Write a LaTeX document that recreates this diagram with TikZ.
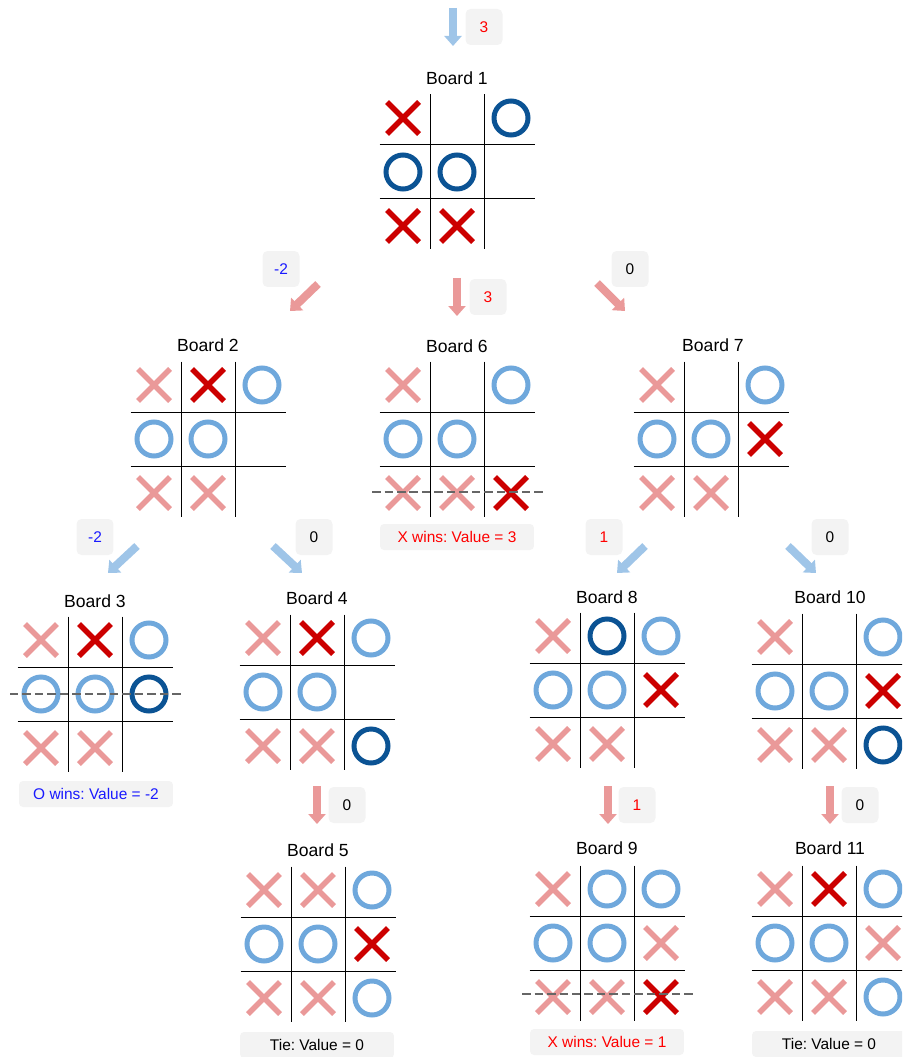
\documentclass[tikz,border=0pt]{standalone}
\usepackage{fontspec}
\setmainfont{Liberation Sans}
\usetikzlibrary{arrows.meta,positioning,calc}
\usepackage{xcolor}
\definecolor{Ink}{HTML}{000000}
\definecolor{XLight}{HTML}{EA9999}
\definecolor{XDark}{HTML}{CC0000}
\definecolor{OLight}{HTML}{6FA8DC}
\definecolor{ODark}{HTML}{0B5394}
\definecolor{ArrowBlue}{HTML}{9FC5E8}
\definecolor{BoxGray}{HTML}{F3F3F3}
\definecolor{WinLine}{HTML}{666666}
\definecolor{ValRed}{HTML}{FF0000}
\definecolor{ValBlue}{HTML}{1A1AFF}

\newcommand{\boardgrid}{%
  \draw[gridline] (-27,-77.5) -- (-27,77.5);
  \draw[gridline] (27,-77.5) -- (27,77.5);
  \draw[gridline] (-77.5,-27) -- (77.5,-27);
  \draw[gridline] (-77.5,27) -- (77.5,27);}
\newcommand{\drawX}[3]{\draw[#1] (#2,#3) +(-16,-16) -- +(16,16) (#2,#3) +(-16,16) -- +(16,-16);}
\newcommand{\drawO}[3]{\draw[#1] (#2,#3) circle[radius=0.34cm];}

\begin{document}
\frenchspacing
\begin{tikzpicture}[x=0.02cm,y=-0.02cm,
  gridline/.style={Ink,line width=0.02cm},
  xl/.style={XLight,line width=0.11cm},
  xd/.style={XDark,line width=0.11cm},
  ol/.style={OLight,line width=0.1cm},
  od/.style={ODark,line width=0.1cm},
  winline/.style={WinLine,line width=0.055cm,dash pattern=on 0.17cm off 0.08cm},
  title/.style={font=\fontsize{10}{12}\selectfont},
  valbox/.style={fill=BoxGray,rounded corners=0.1cm,minimum width=0.74cm,minimum height=0.72cm,inner sep=0pt,font=\fontsize{8.8}{10}\selectfont},
  resbox/.style={fill=BoxGray,rounded corners=0.08cm,minimum width=3.08cm,minimum height=0.52cm,inner sep=0pt,font=\fontsize{8.8}{10}\selectfont},
  movearrow/.style={line width=0.16cm,-{Triangle[width=0.34cm,length=0.2cm]}}]
\useasboundingbox (0,0) rectangle (902,1057);
\clip (0,0) rectangle (902,1057);

% move arrows and their values
\coordinate (m1s) at (453,8);    \coordinate (m1e) at (453,46);
\coordinate (m2s) at (318,284);  \coordinate (m2e) at (290,311);
\coordinate (m6s) at (457,278);  \coordinate (m6e) at (457,316);
\coordinate (m7s) at (597,283);  \coordinate (m7e) at (625,311);
\coordinate (m3s) at (137,546);  \coordinate (m3e) at (108,573);
\coordinate (m4s) at (273,546);  \coordinate (m4e) at (302,573);
\coordinate (m8s) at (645,546);  \coordinate (m8e) at (617,573);
\coordinate (m10s) at (788,546); \coordinate (m10e) at (816,573);
\coordinate (m5s) at (317,786);  \coordinate (m5e) at (317,824);
\coordinate (m9s) at (608,786);  \coordinate (m9e) at (608,824);
\coordinate (m11s) at (830,786); \coordinate (m11e) at (830,824);
\draw[movearrow,ArrowBlue] (m1s) -- (m1e);
\draw[movearrow,XLight] (m2s) -- (m2e);
\draw[movearrow,XLight] (m6s) -- (m6e);
\draw[movearrow,XLight] (m7s) -- (m7e);
\draw[movearrow,ArrowBlue] (m3s) -- (m3e);
\draw[movearrow,ArrowBlue] (m4s) -- (m4e);
\draw[movearrow,ArrowBlue] (m8s) -- (m8e);
\draw[movearrow,ArrowBlue] (m10s) -- (m10e);
\draw[movearrow,XLight] (m5s) -- (m5e);
\draw[movearrow,XLight] (m9s) -- (m9e);
\draw[movearrow,XLight] (m11s) -- (m11e);
\node[valbox,text=ValRed] (val1) at (484,27) {3};
\node[valbox,text=ValBlue] (val2) at (281,269) {-2};
\node[valbox,text=ValRed] (val6) at (488,297) {3};
\node[valbox,text=Ink] (val7) at (630,269) {0};
\node[valbox,text=ValBlue] (val3) at (95,537) {-2};
\node[valbox,text=Ink] (val4) at (314,537) {0};
\node[valbox,text=ValRed] (val8) at (604,537) {1};
\node[valbox,text=Ink] (val10) at (830,537) {0};
\node[valbox,text=Ink] (val5) at (347,805) {0};
\node[valbox,text=ValRed] (val9) at (637,805) {1};
\node[valbox,text=Ink] (val11) at (860,805) {0};

% board titles
\node[title] (board1) at (457,78) {Board 1};
\node[title] (board2) at (208,345) {Board 2};
\node[title] (board6) at (457,346) {Board 6};
\node[title] (board7) at (713,345) {Board 7};
\node[title] (board3) at (95,601) {Board 3};
\node[title] (board4) at (317,598) {Board 4};
\node[title] (board8) at (607,597) {Board 8};
\node[title] (board10) at (830,597) {Board 10};
\node[title] (board5) at (318,850) {Board 5};
\node[title] (board9) at (607,848) {Board 9};
\node[title] (board11) at (830,848) {Board 11};

% Board 1
\begin{scope}[shift={(457,172)}]
\boardgrid
\drawX{xd}{-54}{-54} \drawO{od}{54}{-54}
\drawO{od}{-54}{0} \drawO{od}{0}{0}
\drawX{xd}{-54}{54} \drawX{xd}{0}{54}
\end{scope}
% Board 2
\begin{scope}[shift={(208,439)}]
\boardgrid
\drawX{xl}{-54}{-54} \drawX{xd}{0}{-54} \drawO{ol}{54}{-54}
\drawO{ol}{-54}{0} \drawO{ol}{0}{0}
\drawX{xl}{-54}{54} \drawX{xl}{0}{54}
\end{scope}
% Board 6
\begin{scope}[shift={(457,439)}]
\boardgrid
\drawX{xl}{-54}{-54} \drawO{ol}{54}{-54}
\drawO{ol}{-54}{0} \drawO{ol}{0}{0}
\drawX{xl}{-54}{54} \drawX{xl}{0}{54} \drawX{xd}{54}{54}
\draw[winline] (-85,53) -- (87,53);
\end{scope}
\node[resbox,text=ValRed] (res6) at (457,537) {X wins: Value = 3};
% Board 7
\begin{scope}[shift={(711,439)}]
\boardgrid
\drawX{xl}{-54}{-54} \drawO{ol}{54}{-54}
\drawO{ol}{-54}{0} \drawO{ol}{0}{0} \drawX{xd}{54}{0}
\drawX{xl}{-54}{54} \drawX{xl}{0}{54}
\end{scope}
% Board 3
\begin{scope}[shift={(95,694)}]
\boardgrid
\drawX{xl}{-54}{-54} \drawX{xd}{0}{-54} \drawO{ol}{54}{-54}
\drawO{ol}{-54}{0} \drawO{ol}{0}{0} \drawO{od}{54}{0}
\drawX{xl}{-54}{54} \drawX{xl}{0}{54}
\draw[winline] (-85,0) -- (87,0);
\end{scope}
\node[resbox,text=ValBlue] (res3) at (96,794) {O wins: Value = -2};
% Board 4
\begin{scope}[shift={(317,692)}]
\boardgrid
\drawX{xl}{-54}{-54} \drawX{xd}{0}{-54} \drawO{ol}{54}{-54}
\drawO{ol}{-54}{0} \drawO{ol}{0}{0}
\drawX{xl}{-54}{54} \drawX{xl}{0}{54} \drawO{od}{54}{54}
\end{scope}
% Board 8
\begin{scope}[shift={(607,690)}]
\boardgrid
\drawX{xl}{-54}{-54} \drawO{od}{0}{-54} \drawO{ol}{54}{-54}
\drawO{ol}{-54}{0} \drawO{ol}{0}{0} \drawX{xd}{54}{0}
\drawX{xl}{-54}{54} \drawX{xl}{0}{54}
\end{scope}
% Board 10
\begin{scope}[shift={(829,691)}]
\boardgrid
\drawX{xl}{-54}{-54} \drawO{ol}{54}{-54}
\drawO{ol}{-54}{0} \drawO{ol}{0}{0} \drawX{xd}{54}{0}
\drawX{xl}{-54}{54} \drawX{xl}{0}{54} \drawO{od}{54}{54}
\end{scope}
% Board 5
\begin{scope}[shift={(318,944)}]
\boardgrid
\drawX{xl}{-54}{-54} \drawX{xl}{0}{-54} \drawO{ol}{54}{-54}
\drawO{ol}{-54}{0} \drawO{ol}{0}{0} \drawX{xd}{54}{0}
\drawX{xl}{-54}{54} \drawX{xl}{0}{54} \drawO{ol}{54}{54}
\end{scope}
\node[resbox,text=Ink] (res5) at (317,1045) {Tie: Value = 0};
% Board 9
\begin{scope}[shift={(607,943)}]
\boardgrid
\drawX{xl}{-54}{-54} \drawO{ol}{0}{-54} \drawO{ol}{54}{-54}
\drawO{ol}{-54}{0} \drawO{ol}{0}{0} \drawX{xl}{54}{0}
\drawX{xl}{-54}{54} \drawX{xl}{0}{54} \drawX{xd}{54}{54}
\draw[winline] (-85,51) -- (87,51);
\end{scope}
\node[resbox,text=ValRed] (res9) at (607,1042) {X wins: Value = 1};
% Board 11
\begin{scope}[shift={(829,943)}]
\boardgrid
\drawX{xl}{-54}{-54} \drawX{xd}{0}{-54} \drawO{ol}{54}{-54}
\drawO{ol}{-54}{0} \drawO{ol}{0}{0} \drawX{xl}{54}{0}
\drawX{xl}{-54}{54} \drawX{xl}{0}{54} \drawO{ol}{54}{54}
\end{scope}
\node[resbox,text=Ink] (res11) at (829,1044) {Tie: Value = 0};
\end{tikzpicture}
\end{document}
